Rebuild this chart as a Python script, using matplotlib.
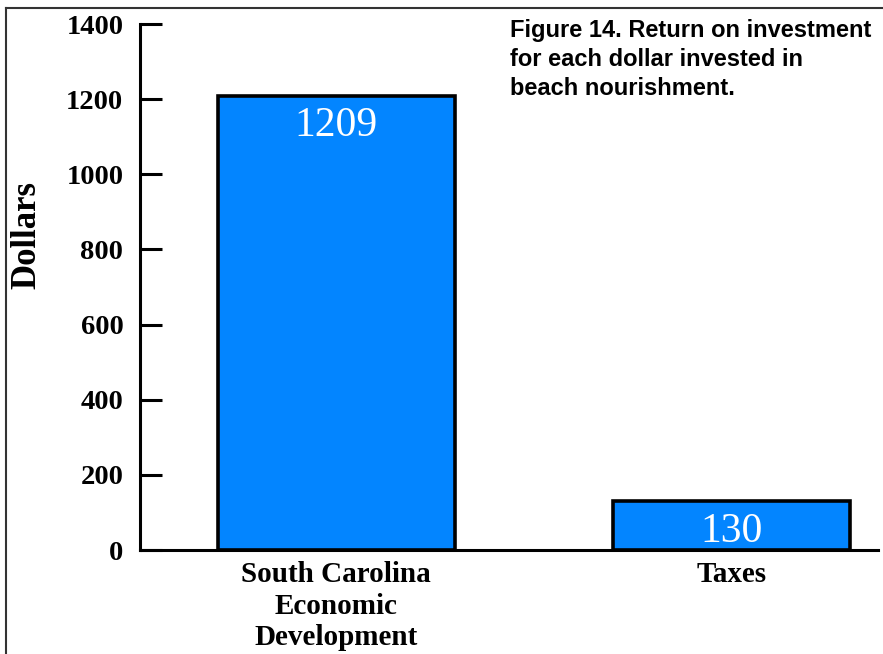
import matplotlib.pyplot as plt
from matplotlib.lines import Line2D

categories = ["South Carolina\nEconomic\nDevelopment", "Taxes"]
values = [1209, 130]
y_ticks = [0, 200, 400, 600, 800, 1000, 1200, 1400]

serif = ["Liberation Serif", "DejaVu Serif"]
sans = ["Liberation Sans", "DejaVu Sans"]

fig = plt.figure(figsize=(8.83, 6.54), dpi=100)
ax = fig.add_axes([140 / 883, 1 - 550 / 654, 738 / 883, 526 / 654])

x = list(range(len(values)))
bars = ax.bar(x, values, width=0.6, color="#0385FF", edgecolor="black", linewidth=2.6, zorder=3)

# value labels inside the top of each bar
for rect, v in zip(bars, values):
    ax.annotate(str(v), (rect.get_x() + rect.get_width() / 2, v), xytext=(0, -8),
                textcoords="offset points", ha="center", va="top",
                color="white", fontsize=30, family=serif, zorder=4)

ax.set_xlim(-0.497, 1.371)
ax.set_ylim(0, 1400)
ax.set_yticks(y_ticks)
ax.set_yticklabels([str(t) for t in y_ticks], family=serif, fontweight="bold", fontsize=20.5)
ax.tick_params(axis="y", direction="in", length=16, width=2.2, pad=12)
ax.set_xticks(x)
ax.set_xticklabels(categories, family=serif, fontweight="bold", fontsize=21, linespacing=1.22)
ax.tick_params(axis="x", length=0, pad=8)

for side in ["top", "right"]:
    ax.spines[side].set_visible(False)
for side in ["left", "bottom"]:
    ax.spines[side].set_linewidth(2.2)

fig.text(27 / 883, 1 - 235 / 654, "Dollars", rotation=90, ha="center", va="center",
         family=serif, fontweight="bold", fontsize=25)

fig.text(510 / 883, 1 - 19 / 654, "Figure 14. Return on investment\nfor each dollar invested in\nbeach nourishment.",
         ha="left", va="top", fontsize=17, fontweight="bold", family=sans, linespacing=1.33)

# frame around the figure
fig.add_artist(Line2D([6 / 883, 6 / 883], [0, 1 - 8 / 654], color="#333333", linewidth=1.5,
                      transform=fig.transFigure))
fig.add_artist(Line2D([6 / 883, 1], [1 - 8 / 654, 1 - 8 / 654], color="#333333", linewidth=1.5,
                      transform=fig.transFigure))

fig.savefig("out.png", dpi=100)
